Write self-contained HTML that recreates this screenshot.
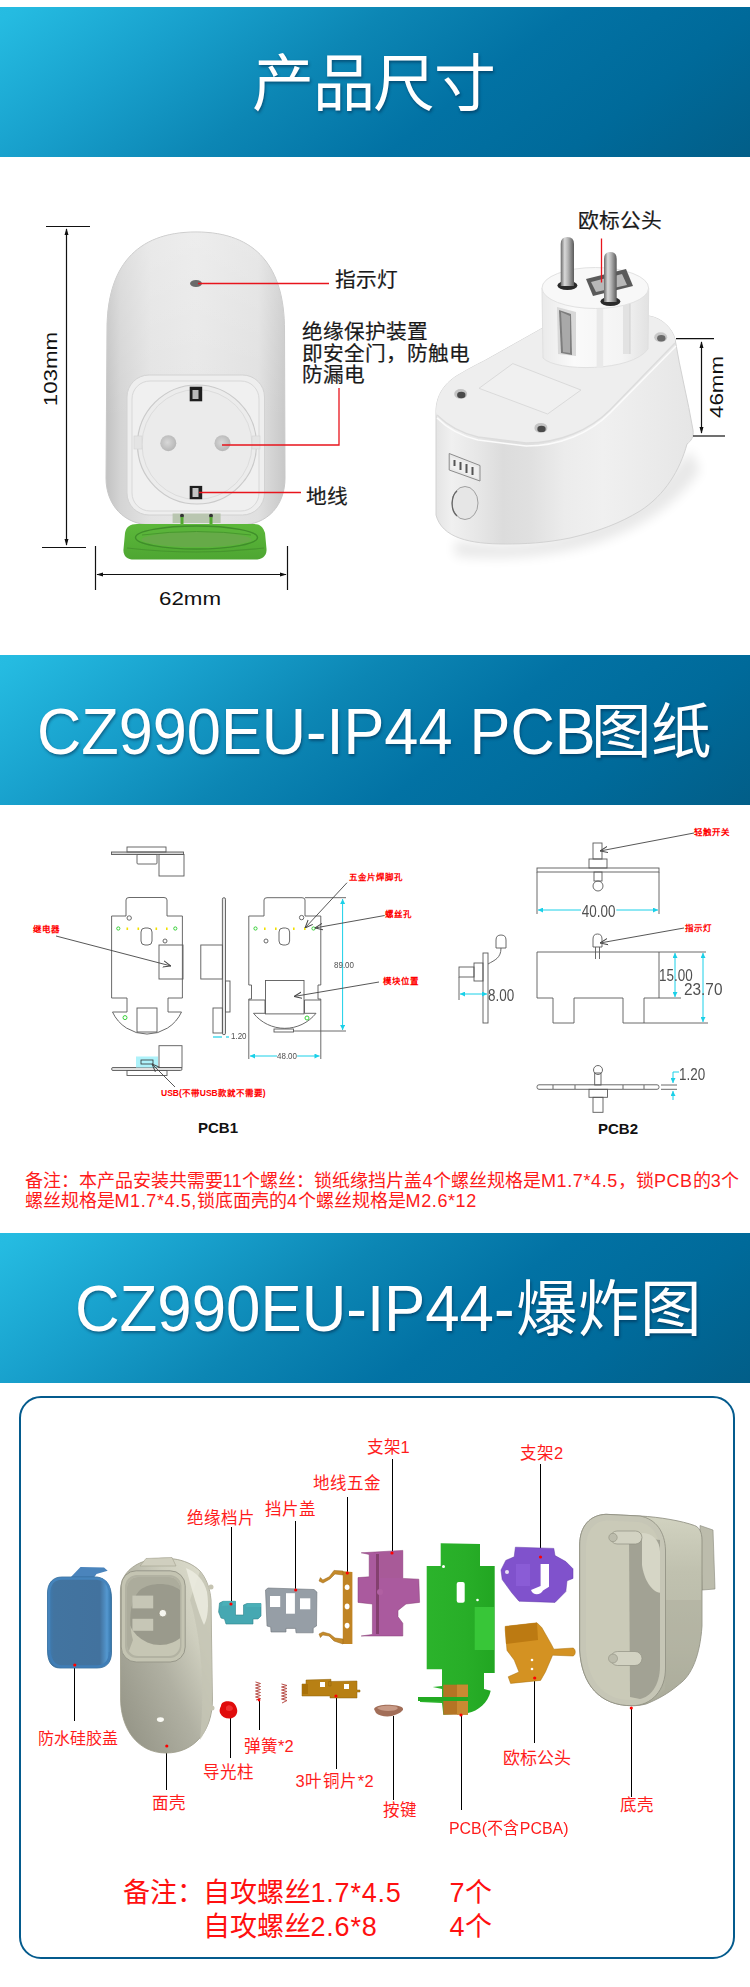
<!DOCTYPE html>
<html lang="zh-CN"><head><meta charset="utf-8">
<style>
*{margin:0;padding:0;box-sizing:border-box}
html,body{width:750px;height:1987px;background:#fff;overflow:hidden}
body{font-family:"Liberation Sans",sans-serif;position:relative}
.ban{position:absolute;left:0;width:750px;height:150px;
 background:linear-gradient(143deg,#26bce2 0%,#25bbe1 2%,#18a0cc 22%,#0c86b4 41.5%,#0272a4 61%,#006a9a 80%,#025e88 100%);}
.bt{position:absolute;color:#fff;white-space:nowrap;text-shadow:1px 2px 3px rgba(0,25,55,.45);line-height:1}
.abs{position:absolute;white-space:nowrap;line-height:1}
.lbl{position:absolute;white-space:nowrap;line-height:1;color:#1a1a1a;font-size:20.7px;-webkit-text-stroke:0.2px #1a1a1a}
.red{position:absolute;white-space:nowrap;line-height:1;color:#fe1a1a;font-size:16px}
svg{position:absolute;left:0;top:0}
.pr{position:absolute;white-space:nowrap;line-height:1;color:#f00;font-size:8.5px;font-weight:bold}
.cad{position:absolute;white-space:nowrap;line-height:1;color:#505050;transform:scaleX(0.84);transform-origin:0 0}
.l{letter-spacing:0.6px}
.el{position:absolute;white-space:nowrap;line-height:1;color:#ff1c1c;font-size:16.5px}
.note{position:absolute;white-space:nowrap;line-height:1;color:#ff1010;font-size:27px}
.dimt{position:absolute;white-space:nowrap;line-height:1;font-size:18.6px;color:#111}
</style></head><body>

<!-- Banner 1 -->
<div class="ban" style="top:7px"></div>
<div class="bt" style="left:252px;top:54px;font-size:62px;letter-spacing:-1.3px">产品尺寸</div>


<!-- PRODUCT SECTION -->
<svg width="750" height="660" viewBox="0 0 750 660" style="top:0">
<defs>
 <linearGradient id="bodyL" x1="0" x2="1" y1="0" y2="0">
  <stop offset="0" stop-color="#c2c2c2"/><stop offset="0.08" stop-color="#d4d4d4"/><stop offset="0.25" stop-color="#e3e3e3"/>
  <stop offset="0.5" stop-color="#e7e7e7"/><stop offset="0.85" stop-color="#e0e0e0"/>
  <stop offset="1" stop-color="#c8c8c8"/>
 </linearGradient>
 <linearGradient id="bodyV" x1="0" x2="0" y1="0" y2="1">
  <stop offset="0" stop-color="#fff" stop-opacity="0.25"/><stop offset="1" stop-color="#fff" stop-opacity="0"/>
 </linearGradient>
 <radialGradient id="hole" cx="0.45" cy="0.45" r="0.6">
  <stop offset="0" stop-color="#d8d8d8"/><stop offset="1" stop-color="#b4b4b4"/>
 </radialGradient>
 <linearGradient id="lid" x1="0" x2="0" y1="0" y2="1">
  <stop offset="0" stop-color="#5cb83a"/><stop offset="1" stop-color="#4ea632"/>
 </linearGradient>
 <linearGradient id="front" x1="0" x2="1" y1="0" y2="0">
  <stop offset="0" stop-color="#e4e4e4"/><stop offset="0.06" stop-color="#f0f0f0"/><stop offset="0.17" stop-color="#e6e6e6"/>
  <stop offset="0.26" stop-color="#dcdcdc"/><stop offset="0.37" stop-color="#e0e0e0"/><stop offset="0.5" stop-color="#ececec"/>
  <stop offset="0.65" stop-color="#f0f0f0"/><stop offset="1" stop-color="#e6e6e6"/>
 </linearGradient>
 <linearGradient id="cyl" x1="0" x2="1" y1="0" y2="0">
  <stop offset="0" stop-color="#eaeaea"/><stop offset="0.3" stop-color="#fafafa"/>
  <stop offset="0.75" stop-color="#f4f4f4"/><stop offset="1" stop-color="#e2e2e2"/>
 </linearGradient>
 <linearGradient id="pin" x1="0" x2="1" y1="0" y2="0">
  <stop offset="0" stop-color="#6a6a6a"/><stop offset="0.3" stop-color="#d8d8d8"/>
  <stop offset="0.55" stop-color="#b4b4b4"/><stop offset="1" stop-color="#5a5a5a"/>
 </linearGradient>
 <filter id="blur6"><feGaussianBlur stdDeviation="6"/></filter>
 <marker id="arr" viewBox="0 0 10 10" refX="9" refY="5" markerWidth="7" markerHeight="9" orient="auto-start-reverse" markerUnits="userSpaceOnUse">
  <path d="M0,2 L10,5 L0,8 Z" fill="#111"/></marker>
</defs>

<!-- left product: body -->
<path d="M107,330 C107,268 135,232 196,232 C257,232 284.5,268 284.5,330 L285,478 C285,505 268,525 240,525 L152,525 C124,525 106,505 106,478 Z" fill="url(#bodyL)" stroke="#c8c8c8" stroke-width="1"/>
<path d="M107,330 C107,268 135,232 196,232 C257,232 284.5,268 284.5,330 L285,420 L106,420 Z" fill="url(#bodyV)"/>
<ellipse cx="196" cy="283.5" rx="6" ry="3.5" fill="#6a6a6a"/>
<!-- recess -->
<rect x="127" y="375" width="137.5" height="140" rx="22" fill="#eeeeee" stroke="#d2d2d2"/>
<rect x="132" y="381" width="127" height="130" rx="18" fill="#f0f0f0" stroke="#d8d8d8"/>
<circle cx="197" cy="444.5" r="59.5" fill="#ececec" stroke="#cacaca" stroke-width="1.2"/>
<circle cx="197" cy="444.5" r="55" fill="#ebebeb" stroke="#dcdcdc"/>
<rect x="134" y="436" width="8" height="13" fill="#e4e4e4" stroke="#d2d2d2" stroke-width=".6"/>
<rect x="252" y="436" width="8" height="13" fill="#e4e4e4" stroke="#d2d2d2" stroke-width=".6"/>
<circle cx="168.3" cy="443.2" r="8" fill="url(#hole)"/>
<circle cx="222.5" cy="443.2" r="8" fill="url(#hole)"/>
<rect x="189.7" y="386.7" width="12.5" height="14.6" fill="#1e1e1e"/>
<rect x="192.5" y="390" width="6" height="9" fill="#b9b9b9"/>
<rect x="189.7" y="485.9" width="12.5" height="13.3" fill="#1e1e1e"/>
<rect x="192.5" y="488" width="6" height="9" fill="#c4c4c4"/>
<!-- hinge -->
<rect x="172.6" y="513.5" width="48" height="9.5" fill="#b9c6b0"/>
<circle cx="182" cy="515.7" r="2" fill="#333"/><circle cx="211" cy="515.7" r="2" fill="#333"/>
<rect x="180.5" y="517" width="3" height="7" fill="#55a832"/><rect x="209.5" y="517" width="3" height="7" fill="#55a832"/>
<!-- lid -->
<path d="M137,524 L254,524 C260,524 263,527 265,533 L266.5,549 C267,556 262,559.5 255,559.5 L134,559.5 C127,559.5 123,556 123.5,549 L125,533 C126,527 130,524 137,524 Z" fill="url(#lid)"/>
<path d="M127,548 Q196,556 264,548" stroke="#46962e" stroke-width="1.2" fill="none"/>
<ellipse cx="196.5" cy="537.5" rx="61" ry="11.5" fill="#5ab43a" stroke="#3f8e2a" stroke-width="1.4"/>
<ellipse cx="196.5" cy="539.5" rx="55" ry="7.5" fill="#66aa48"/>
<path d="M142,535 Q196.5,528 251,535" stroke="#48982f" stroke-width="1" fill="none"/>
<!-- left dims -->
<line x1="46" y1="226.5" x2="90" y2="226.5" stroke="#111" stroke-width="1.2"/>
<line x1="42" y1="547.5" x2="86" y2="547.5" stroke="#111" stroke-width="1.2"/>
<line x1="66.5" y1="229" x2="66.5" y2="545" stroke="#111" stroke-width="1.2" marker-start="url(#arr)" marker-end="url(#arr)"/>
<line x1="95.5" y1="546" x2="95.5" y2="590" stroke="#111" stroke-width="1.2"/>
<line x1="287.5" y1="546" x2="287.5" y2="590" stroke="#111" stroke-width="1.2"/>
<line x1="97" y1="574.5" x2="286" y2="574.5" stroke="#111" stroke-width="1.2" marker-start="url(#arr)" marker-end="url(#arr)"/>

<!-- red leader lines -->
<line x1="198" y1="283.5" x2="329" y2="283.5" stroke="#e8141c" stroke-width="1.3"/>
<polyline points="222,445 339,445 339,388" stroke="#e8141c" stroke-width="1.3" fill="none"/>
<line x1="199" y1="492.5" x2="301" y2="492.5" stroke="#e8141c" stroke-width="1.3"/>

<!-- right product -->
<path d="M455,540 C520,552 620,540 690,450 L700,470 C650,545 540,565 455,556 Z" fill="#000" opacity="0.09" filter="url(#blur6)"/>
<path d="M436,515 L436,412 C436,395 445,382 460,374 C470,368 478,364 484,361 L548,325 L649,316 C662,318 672,328 675,339 C680,370 688,400 693,430 C694,437 691,441 687,444 C680,470 665,495 640,511 C620,523 600,531 570,538 C545,543 525,544 505,544 C470,544 442,538 436,515 Z" fill="url(#front)" stroke="#d2d2d2"/>
<path d="M436,412 C436,395 445,382 460,374 C470,368 478,364 484,361 L548,325 L649,316 C662,318 672,328 675,339 L675,343 L610,410 C590,430 560,443 526,443 L478,437 C455,432 437,425 436,412 Z" fill="#eeeeee"/>
<path d="M437,415 C450,428 465,434 478,437 L526,443 C560,443 590,430 610,410 L675,343" fill="none" stroke="#dcdcdc" stroke-width="1.5"/>
<path d="M437,418 C450,431 465,437 478,440 L526,446 C560,446 590,433 610,413 L676,346" fill="none" stroke="#fbfbfb" stroke-width="1.5"/>
<polygon points="479,388.3 512.8,363.6 581,390 547.6,414" fill="#f0f0f0" stroke="#dadada"/>
<ellipse cx="460.7" cy="394" rx="6.5" ry="5" fill="#c4c4c4"/><ellipse cx="461.3" cy="395" rx="4.2" ry="3.2" fill="#4a4a4a"/>
<ellipse cx="540.9" cy="427.9" rx="6.5" ry="5" fill="#c4c4c4"/><ellipse cx="541.5" cy="428.9" rx="4.2" ry="3.2" fill="#4a4a4a"/>
<ellipse cx="660.7" cy="337.3" rx="6.5" ry="5" fill="#c8c8c8"/><ellipse cx="661.3" cy="338.3" rx="4.2" ry="3.2" fill="#6a6a6a"/>
<polygon points="449.2,453.5 480,465.5 480,481 449.2,470" fill="#e8e8e8" stroke="#8c8c8c" stroke-width="1"/>
<polygon points="451,457 478,467.5 478,478.5 451,468" fill="#efefef"/>
<rect x="453.5" y="460" width="2" height="6" fill="#555"/><rect x="459.5" y="462" width="2" height="8" fill="#555"/>
<rect x="465.5" y="464" width="2" height="9" fill="#555"/><rect x="471.5" y="467" width="2" height="8" fill="#555"/>
<ellipse cx="465" cy="503" rx="13" ry="16.5" fill="#e6e6e6" stroke="#a0a0a0" stroke-width="1"/><path d="M457,491 C451,496 450,510 457,516" fill="none" stroke="#666" stroke-width="1.2"/>
<!-- plug cylinder -->
<path d="M542,288 L543,358 C556,372 632,372 648,349 L648.7,288 Z" fill="url(#cyl)" stroke="#e0e0e0"/>
<rect x="596.7" y="306" width="6.5" height="62" fill="#e9e9e9"/>
<rect x="623" y="302" width="7" height="52" fill="#e2e2e2"/>
<line x1="630" y1="302" x2="630" y2="354" stroke="#d0d0d0"/>
<ellipse cx="595.3" cy="288" rx="53.3" ry="20.5" fill="#f8f8f8" stroke="#e2e2e2"/>
<polygon points="557,307 576,312 576,356 558,354" fill="#d8d8d8"/>
<polygon points="559,310 571,314 572,355 561,353" fill="#7d7d7d"/>
<polygon points="561,312 570,316 570,353 563,352" fill="#a9a9a9"/>
<polygon points="586,279 626,269 633,286 593,296" fill="#5a5a5a"/>
<polygon points="591,282 622,274 627,285 596,292" fill="#b8b8b8"/>
<ellipse cx="567.4" cy="285.5" rx="10" ry="4.5" fill="#2a2a2a"/>
<ellipse cx="610.4" cy="301.5" rx="10" ry="4.5" fill="#2a2a2a"/>
<path d="M560.7,244 Q560.7,237 567.4,237 Q574,237 574,244 L574,286 L560.7,286 Z" fill="url(#pin)"/>
<path d="M604,259 Q604,252 610.4,252 Q616.7,252 616.7,259 L616.7,302 L604,302 Z" fill="url(#pin)"/>
<line x1="601.5" y1="238.5" x2="601.5" y2="282.5" stroke="#e8141c" stroke-width="1.3"/>
<!-- right dims -->
<line x1="676" y1="338.7" x2="714" y2="338.7" stroke="#111" stroke-width="1.2"/>
<line x1="693" y1="436" x2="725" y2="436" stroke="#111" stroke-width="1.2"/>
<line x1="701.5" y1="342" x2="701.5" y2="433" stroke="#111" stroke-width="1.2" marker-start="url(#arr)" marker-end="url(#arr)"/>
</svg>
<div class="lbl" style="left:335px;top:270px">指示灯</div>
<div class="lbl" style="left:302px;top:321px;line-height:21.7px">绝缘保护装置<br>即安全门，防触电<br>防漏电</div>
<div class="lbl" style="left:306px;top:486.5px">地线</div>
<div class="lbl" style="left:578px;top:211px">欧标公头</div>
<div class="dimt" style="left:190.2px;top:599px;transform:translate(-50%,-50%) scaleX(1.2)">62mm</div>
<div class="dimt" style="left:51px;top:369.4px;transform:translate(-50%,-50%) rotate(-90deg) scaleX(1.2)">103mm</div>
<div class="dimt" style="left:716.5px;top:386.5px;transform:translate(-50%,-50%) rotate(-90deg) scaleX(1.2)">46mm</div>

<!-- Banner 2 -->
<div class="ban" style="top:655px"></div>
<div class="bt" style="left:37px;top:699.5px;font-size:64.5px;transform:scaleX(0.95);transform-origin:0 0">CZ990EU-IP44 PCB</div>
<div class="bt" style="left:591px;top:702px;font-size:60.5px">图纸</div>


<!-- PCB SECTION -->
<svg width="750" height="440" viewBox="0 805 750 440" style="top:805px">
<defs>
 <marker id="ar" viewBox="0 0 10 10" refX="10" refY="5" markerWidth="8" markerHeight="8" orient="auto" markerUnits="userSpaceOnUse">
  <path d="M0,1 L10,5 L0,9" fill="none" stroke="#444" stroke-width="1.2"/></marker>
 <marker id="ac" viewBox="0 0 10 10" refX="10" refY="5" markerWidth="7" markerHeight="5" orient="auto-start-reverse" markerUnits="userSpaceOnUse">
  <path d="M0,0 L10,5 L0,10 Z" fill="#1ad0e8"/></marker>
</defs>
<g fill="none" stroke="#5a5a5a" stroke-width="0.9">
 <!-- PCB1 top view -->
 <rect x="111.5" y="852" width="72" height="2.5" fill="#d8d8d8"/>
 <rect x="127" y="847" width="39" height="5"/>
 <rect x="137" y="854.5" width="20" height="9.5" rx="1"/>
 <rect x="159" y="854.5" width="25" height="21.5"/>
 <!-- PCB1 left board -->
 <path d="M111.6,916 L126,916 L126,900 Q126,897.5 129,897.5 L164,897.5 Q167,897.5 167,900 L167,916 L182.4,916 L182.4,998 L168,998 L168,1012 L181.5,1012 A38,38 0 0 1 112.5,1012 L127,1012 L127,998 L111.6,998 Z"/>
 <circle cx="129.2" cy="918" r="2.2"/>
 <rect x="141" y="928" width="11" height="17" rx="4"/>
 <circle cx="165" cy="941" r="2"/>
 <rect x="159" y="945" width="24" height="34"/>
 <rect x="137" y="1008" width="20" height="24"/>
 <!-- PCB1 side -->
 <rect x="222.4" y="897.7" width="3.1" height="137" rx="1.5" fill="#e6e6e6"/>
 <rect x="200.8" y="945" width="21.6" height="34"/>
 <rect x="225.5" y="981" width="4.5" height="31"/>
 <rect x="213" y="1008" width="9.4" height="25"/>
 <!-- PCB1 right board -->
 <path d="M248.8,916 L264,916 L264,900 Q264,897.7 267,897.7 L302,897.7 Q305,897.7 305,900 L305,916 L320.8,916 L320.8,985 L318,985 L318,999 L320.8,999 L320.8,1000 L304.5,1000 L304.5,1013.3 L316,1013.3 A40,40 0 0 1 253.5,1013.3 L265,1013.3 L265,1000 L248.8,1000 L248.8,999 L251.5,999 L251.5,985 L248.8,985 Z"/>
 <line x1="248.8" y1="1000" x2="248.8" y2="1059"/>
 <line x1="320.8" y1="1000" x2="320.8" y2="1059"/>
 <circle cx="301.6" cy="917.6" r="2.2"/>
 <rect x="279" y="928" width="10.6" height="17" rx="4"/>
 <circle cx="266" cy="941" r="2"/>
 <rect x="265.5" y="980.5" width="38.5" height="33.4"/>
 <rect x="274" y="1029" width="19.5" height="3"/>
 <line x1="305" y1="897.7" x2="346" y2="897.7"/>
 <line x1="293" y1="1031" x2="346" y2="1031"/>
 <!-- PCB1 bottom side view -->
 <rect x="111.6" y="1067.5" width="70.4" height="3" rx="1.4" fill="#e0e0e0"/>
 <rect x="127" y="1070.5" width="40" height="5"/>
 <rect x="159" y="1045.7" width="23" height="21.8"/>
</g>
<rect x="136" y="1056.5" width="22" height="11" fill="#aef2fa"/>
<rect x="141" y="1060" width="12" height="4" fill="none" stroke="#333" stroke-width="0.8"/>
<!-- PCB1 dots -->
<g stroke="#38d038" fill="none" stroke-width="1">
 <circle cx="118.3" cy="928.5" r="1.6"/><circle cx="175.3" cy="928.5" r="1.6"/>
 <circle cx="255.5" cy="928.5" r="1.6"/><circle cx="313.5" cy="928.5" r="1.6"/>
 <circle cx="125" cy="1017.6" r="2"/><circle cx="307" cy="1018" r="2"/>
</g>
<g fill="#f2e000">
 <rect x="126.5" y="927.5" width="1.6" height="2.5"/><rect x="137.5" y="927.5" width="1.6" height="2.5"/>
 <rect x="155.5" y="927.5" width="1.6" height="2.5"/><rect x="166" y="927.5" width="1.6" height="2.5"/>
 <rect x="264" y="927.5" width="1.6" height="2.5"/><rect x="275" y="927.5" width="1.6" height="2.5"/>
 <rect x="293" y="927.5" width="1.6" height="2.5"/><rect x="304" y="927.5" width="1.6" height="2.5"/>
</g>
<!-- PCB1 dims -->
<line x1="342.6" y1="899" x2="342.6" y2="1030" stroke="#1ad0e8" stroke-width="1" marker-start="url(#ac)" marker-end="url(#ac)"/>
<line x1="250" y1="1056" x2="319.5" y2="1056" stroke="#1ad0e8" stroke-width="1" marker-start="url(#ac)" marker-end="url(#ac)"/>
<line x1="213" y1="1037" x2="222" y2="1037" stroke="#1ad0e8" stroke-width="1.2"/>
<line x1="226" y1="1037" x2="229" y2="1037" stroke="#1ad0e8" stroke-width="1.2"/>
<!-- arrows -->
<g stroke="#444" stroke-width="0.9" fill="none">
 <line x1="56" y1="936" x2="171" y2="966" marker-end="url(#ar)"/>
 <line x1="347" y1="882.7" x2="305" y2="928" marker-end="url(#ar)"/>
 <line x1="384.7" y1="915.5" x2="314.8" y2="928" marker-end="url(#ar)"/>
 <line x1="379" y1="982" x2="294" y2="996.5" marker-end="url(#ar)"/>
 <line x1="175" y1="1087" x2="152" y2="1064" marker-end="url(#ar)"/>
 <line x1="694" y1="833" x2="600" y2="851" marker-end="url(#ar)"/>
 <line x1="684" y1="928" x2="600" y2="943" marker-end="url(#ar)"/>
</g>

<!-- PCB2 -->
<g fill="none" stroke="#5a5a5a" stroke-width="0.9">
 <rect x="537" y="868" width="122" height="4"/>
 <rect x="589" y="859" width="18" height="9"/>
 <rect x="593" y="843" width="9" height="16"/>
 <rect x="594" y="872" width="8" height="9"/>
 <circle cx="598" cy="886" r="5"/>
 <line x1="537" y1="872" x2="537" y2="914"/>
 <line x1="659" y1="872" x2="659" y2="914"/>
 <path d="M537,952 L659,952 L659,998 L644,998 L644,1023 L623,1023 L623,998 L574,998 L574,1023 L553,1023 L553,998 L537,998 Z"/>
 <path d="M593,947 L593,939 Q593,934 597.5,934 Q602,934 602,939 L602,947 Z"/>
 <line x1="595.5" y1="947" x2="595.5" y2="959"/><line x1="599.5" y1="947" x2="599.5" y2="959"/>
 <line x1="659" y1="952" x2="706" y2="952"/>
 <line x1="659" y1="998" x2="681" y2="998"/>
 <line x1="644" y1="1023" x2="708" y2="1023"/>
 <rect x="483" y="953" width="5" height="70"/>
 <rect x="459" y="967" width="15" height="10"/>
 <rect x="474" y="963" width="9" height="18"/>
 <path d="M496,948 L496,940 Q496,935 501,935 Q506,935 506,940 L506,948 Z"/>
 <path d="M501,948 C501,958 495,960 488,964"/>
 <line x1="459" y1="977" x2="459" y2="1000"/>
 <rect x="537" y="1084.8" width="122" height="4.5" rx="2"/>
 <line x1="553" y1="1085" x2="553" y2="1089"/><line x1="575" y1="1085" x2="575" y2="1089"/>
 <line x1="623" y1="1085" x2="623" y2="1089"/><line x1="644" y1="1085" x2="644" y2="1089"/>
 <circle cx="598" cy="1070" r="4.5"/>
 <rect x="594.7" y="1073" width="6.3" height="12"/>
 <rect x="589" y="1089.3" width="18.5" height="8"/>
 <rect x="593" y="1097.3" width="10" height="15"/>
 <line x1="661" y1="1085" x2="677" y2="1085"/><line x1="661" y1="1089.3" x2="677" y2="1089.3"/>
</g>
<g stroke="#1ad0e8" stroke-width="1">
 <line x1="538" y1="910" x2="658" y2="910" marker-start="url(#ac)" marker-end="url(#ac)"/>
 <line x1="675" y1="953" x2="675" y2="997" marker-start="url(#ac)" marker-end="url(#ac)"/>
 <line x1="703" y1="953" x2="703" y2="1022" marker-start="url(#ac)" marker-end="url(#ac)"/>
 <line x1="460" y1="994" x2="487" y2="994" marker-start="url(#ac)" marker-end="url(#ac)"/>
 <line x1="673" y1="1072" x2="673" y2="1083" marker-end="url(#ac)"/>
 <line x1="673" y1="1100" x2="673" y2="1091" marker-end="url(#ac)"/>
 <line x1="673" y1="1072" x2="679" y2="1072"/>
</g>
</svg>
<div class="pr" style="left:33px;top:925px">继电器</div>
<div class="pr" style="left:348.5px;top:872.5px">五金片焊脚孔</div>
<div class="pr" style="left:385px;top:910px">螺丝孔</div>
<div class="pr" style="left:382.5px;top:976.5px">模块位置</div>
<div class="pr" style="left:161px;top:1089px">USB(不带USB款就不需要)</div>
<div class="pr" style="left:694px;top:828px">轻触开关</div>
<div class="pr" style="left:685px;top:924px">指示灯</div>
<div class="cad" style="left:334px;top:959.5px;font-size:9.5px">89.00</div>
<div class="cad" style="left:276.5px;top:1050.5px;font-size:9.5px;background:#fff">48.00</div>
<div class="cad" style="left:230.5px;top:1031px;font-size:9.5px">1.20</div>
<div class="cad" style="left:581px;top:904px;font-size:16px;background:#fff;padding:0 1px">40.00</div>
<div class="cad" style="left:659px;top:968px;font-size:16px">15.00</div>
<div class="cad" style="left:683.5px;top:981.5px;font-size:16px;transform:scaleX(0.96)">23.70</div>
<div class="cad" style="left:487.5px;top:988px;font-size:16px">8.00</div>
<div class="cad" style="left:678.5px;top:1066.5px;font-size:16px">1.20</div>
<div class="abs" style="left:198px;top:1120px;font-size:15px;font-weight:bold;color:#111">PCB1</div>
<div class="abs" style="left:598px;top:1121px;font-size:15px;font-weight:bold;color:#111">PCB2</div>
<div class="red" style="left:24.5px;top:1170.5px;font-size:18px;line-height:20.5px">备注：本产品安装共需要<span class="l">11</span>个螺丝：锁纸缘挡片盖<span class="l">4</span>个螺丝规格是<span class="l">M1.7*4.5</span>，锁<span class="l">PCB</span>的<span class="l">3</span>个<br>螺丝规格是<span class="l">M1.7*4.5,</span>锁底面壳的<span class="l">4</span>个螺丝规格是<span class="l">M2.6*12</span></div>

<!-- Banner 3 -->
<div class="ban" style="top:1233px"></div>
<div class="bt" style="left:75px;top:1277px;font-size:64.5px;transform:scaleX(0.958);transform-origin:0 0">CZ990EU-IP44-</div>
<div class="bt" style="left:516px;top:1278.5px;font-size:61.5px">爆炸图</div>


<!-- EXPLODED -->
<svg width="750" height="600" viewBox="0 1390 750 600" style="top:1390px">
<defs>
 <linearGradient id="blueC" x1="0" x2="1" y1="0" y2="0">
  <stop offset="0" stop-color="#3c7cb4"/><stop offset="0.1" stop-color="#4274a0"/>
  <stop offset="0.82" stop-color="#42729e"/><stop offset="0.93" stop-color="#5498d0"/><stop offset="1" stop-color="#3272a6"/>
 </linearGradient>
 <linearGradient id="shellF" x1="1" x2="0" y1="0" y2="1">
  <stop offset="0" stop-color="#e0e0d0"/><stop offset="0.3" stop-color="#cecebe"/>
  <stop offset="0.55" stop-color="#b0b0a2"/><stop offset="0.8" stop-color="#9e9e90"/><stop offset="1" stop-color="#909082"/>
 </linearGradient>
 <linearGradient id="shellB" x1="0" x2="0" y1="0" y2="1">
  <stop offset="0" stop-color="#d2d3c1"/><stop offset="0.3" stop-color="#c0c1af"/>
  <stop offset="0.7" stop-color="#b8b9a8"/><stop offset="1" stop-color="#acad9c"/>
 </linearGradient>
 <linearGradient id="greenP" x1="0" x2="1" y1="0" y2="0">
  <stop offset="0" stop-color="#2cb42c"/><stop offset="0.6" stop-color="#28ae28"/><stop offset="1" stop-color="#22a622"/>
 </linearGradient>
</defs>
<!-- leader lines -->
<g stroke="#000" stroke-width="1">
 <line x1="74.5" y1="1665" x2="74.5" y2="1721"/>
 <line x1="166.5" y1="1746" x2="166.5" y2="1790"/>
 <line x1="231.5" y1="1527" x2="231.5" y2="1604"/>
 <line x1="295.5" y1="1521" x2="295.5" y2="1590"/>
 <line x1="347.5" y1="1497" x2="347.5" y2="1573"/>
 <line x1="392.5" y1="1459" x2="392.5" y2="1553"/>
 <line x1="540.5" y1="1464" x2="540.5" y2="1557"/>
 <line x1="230.5" y1="1718" x2="230.5" y2="1758"/>
 <line x1="259.5" y1="1700" x2="259.5" y2="1730"/>
 <line x1="336.5" y1="1696" x2="336.5" y2="1769"/>
 <line x1="393.5" y1="1716" x2="393.5" y2="1800"/>
 <line x1="461.5" y1="1715" x2="461.5" y2="1810"/>
 <line x1="534.5" y1="1678" x2="534.5" y2="1743"/>
 <line x1="631.5" y1="1708" x2="631.5" y2="1797"/>
</g>
<!-- blue cap -->
<path d="M70,1578 L80.5,1567 L104,1567.5 L107.7,1570.7 L96.5,1574 L93,1579 Z" fill="#4a84bc"/>
<path d="M62,1577 L97,1577 C106,1578 111.5,1586 111.5,1598 L111.5,1652 C111.5,1663 106,1668 97,1668 L60,1668 C51,1668 47.5,1661 47.5,1650 L47.5,1593 C47.5,1583 53,1577 62,1577 Z" fill="url(#blueC)" stroke="#2d6797" stroke-width="0.8"/>
<path d="M49,1645 C49,1660 54,1666.5 62,1666.5 L97,1666.5 C105,1666.5 110,1661 110,1652" fill="none" stroke="#3f7db6" stroke-width="2.5"/>
<path d="M49,1650 L49,1594 C49,1584 54,1578.5 62,1578.5 L97,1578.5 C104,1579 108,1583 109.5,1590" fill="none" stroke="#4584bc" stroke-width="2.5"/>
<!-- face shell -->
<path d="M120.4,1592 C120.4,1576 130,1566 145,1561 C162,1556 186,1557 200,1571 C206,1578 210,1588 211,1600 L212.4,1700 C212.4,1730 195,1753 166,1753 C137,1753 121,1728 120.6,1700 Z" fill="url(#shellF)" stroke="#9c9a88" stroke-width="0.8"/>
<path d="M190,1600 C202,1640 205,1690 200,1740 C207,1730 212,1715 212,1700 L211,1600 C210,1588 206,1578 200,1571 Z" fill="#c4c4b4" opacity="0.8"/>
<path d="M186,1568 C196,1572 204,1580 207,1592 C209,1605 208,1618 204,1625 C198,1612 192,1590 186,1568 Z" fill="#ecece0" opacity="0.85"/>
<rect x="121.2" y="1570.8" width="64" height="91.2" rx="15" fill="#c4c4b2" stroke="#98988a"/>
<rect x="125" y="1575" width="56.5" height="83" rx="12" fill="#b2b2a2"/>
<clipPath id="recc"><rect x="127" y="1577" width="53" height="79" rx="11"/></clipPath>
<g clip-path="url(#recc)">
<rect x="127" y="1577" width="53" height="79" fill="#c6c6b4"/>
<circle cx="160" cy="1612" r="33" fill="#9a9a8c"/>
<path d="M127,1577 L180,1577 L180,1590 C170,1582 150,1582 140,1590 C130,1600 128,1620 133,1640 L127,1656 Z" fill="#acac9c"/>
</g>
<rect x="132.4" y="1595.6" width="20.8" height="12.8" fill="#c6c6b6"/>
<rect x="132.4" y="1618.8" width="20.8" height="12" fill="#c6c6b6"/>
<circle cx="162.8" cy="1613.2" r="3.8" fill="#f6f6f0" stroke="#8f8d7c" stroke-width="0.8"/>
<ellipse cx="160.4" cy="1719.6" rx="3.5" ry="2.3" fill="#fafaf4"/>
<path d="M140,1566 L146,1558.5 L172,1557.5 L176,1566 Z" fill="#d0cfbf" stroke="#a3a18f" stroke-width="0.6"/>
<circle cx="211" cy="1587" r="2.5" fill="#c6c4b2"/><circle cx="212" cy="1708" r="2.5" fill="#c6c4b2"/>
<!-- teal -->
<path d="M219.5,1603 L223,1601.3 L235.5,1601.3 L235.5,1615 L243.5,1615 L243.5,1605 L247,1603.5 L261,1603.5 L261,1616 L258,1618.9 L253,1619 L253,1624 L226,1624 L224.5,1619 L221,1618 L218.6,1612 Z" fill="#46a8b2" stroke="#2e848c" stroke-width="0.6"/>
<path d="M223,1601.3 L235.5,1601.3 L235.5,1605 L222,1606 Z" fill="#4ab0b8"/>
<path d="M247,1603.5 L261,1603.5 L261,1607 L246,1607 Z" fill="#4ab0b8"/>
<!-- gray plate -->
<path d="M265.5,1590 L268,1588 L314,1589.5 L316.9,1592 L316.5,1626 L313.2,1628 L313.2,1632.8 L296,1632.8 L295.6,1628.4 L286,1628.4 L286,1632 L271,1632 L270.7,1627 L267,1626 Z" fill="#969ea6" stroke="#6d747b" stroke-width="0.6"/>
<rect x="270" y="1596" width="10.2" height="11" fill="#fff"/>
<rect x="286" y="1593.2" width="8.9" height="20.5" fill="#fff"/>
<rect x="300" y="1598.3" width="10.3" height="11" fill="#fff"/>
<!-- bronze bracket -->
<path d="M342.8,1571.2 L352.4,1572 L352.4,1644 L342.8,1644 Z" fill="#c08424"/>
<path d="M343,1571 L334,1570.4 L329.2,1576.8 L322.8,1580 L320.4,1577.6 L319,1581 L323,1583 L330,1579 L335,1574 L343,1575 Z" fill="#c48a2a" stroke="#9a6414" stroke-width="0.5"/>
<path d="M343,1644 L334,1641 L329,1636 L322.8,1635 L320.4,1637.6 L319,1634 L323,1632 L330,1634 L335,1638 L343,1639 Z" fill="#c48a2a" stroke="#9a6414" stroke-width="0.5"/>
<ellipse cx="347.1" cy="1587.2" rx="2.4" ry="2.8" fill="#fff"/><ellipse cx="347.1" cy="1606.4" rx="2.4" ry="2.8" fill="#fff"/><ellipse cx="347.1" cy="1625.6" rx="2.4" ry="2.8" fill="#fff"/>
<!-- magenta -->
<path d="M361.2,1552.8 L402.8,1550.4 L402.8,1578.4 L418.8,1579.2 L419.6,1602.4 L406,1604 L398,1610.4 L398,1616.8 L402.8,1623.2 L402.8,1636 L361.2,1636 L372.4,1634.4 L372.4,1604 L358,1602.4 L358,1577.6 L369.2,1576.8 L369.2,1554.4 Z" fill="#aa5a9e" stroke="#863c74" stroke-width="0.5"/>
<path d="M380,1553 L402.8,1551 L402.8,1578 L380,1578 Z" fill="#a85a98"/>
<rect x="376" y="1554" width="3" height="80" fill="#84406f"/>
<circle cx="380" cy="1592" r="3" fill="#b060a2"/>
<!-- green pcb -->
<path d="M440.7,1543.3 L480,1544 L480,1566 L494.7,1566 L494.7,1673 L484,1673 L484,1689 L490.7,1690.7 C488,1703 478,1711 468,1713 L443.3,1714.7 L442,1703 L420,1702 L420,1698.7 L442,1698 L442,1689 L432.7,1687 L442,1686 L442,1669.3 L426.7,1669.3 L426.7,1566 L440.7,1566 Z" fill="url(#greenP)"/>
<rect x="474.7" y="1607" width="19.3" height="43" fill="#38c638"/>
<rect x="456.7" y="1582" width="8" height="20.7" rx="2" fill="#fff"/>
<circle cx="443.5" cy="1566.5" r="1.5" fill="#fff"/><circle cx="477.5" cy="1600" r="1.3" fill="#fff"/>
<rect x="443.3" y="1684.7" width="24.7" height="30" fill="#b47424"/>
<rect x="457" y="1684.7" width="11" height="30" fill="#c98a32"/>
<rect x="418" y="1697" width="50" height="4" fill="#22aa22"/>
<!-- purple -->
<path d="M515.4,1547.2 L553.8,1548.4 L555,1555.6 L565.8,1561.6 L573,1568.8 L573,1578.4 L567,1580.8 L565.8,1591.6 L555,1602.4 L519,1601.2 L511.8,1592.8 L502.2,1579.6 L501,1570 L505.8,1560.4 L514.2,1556.8 Z" fill="#8052cc" stroke="#6038a6" stroke-width="0.5"/>
<rect x="516" y="1564" width="14" height="22" fill="#8a5cd6"/>
<path d="M540.6,1564 L549,1564 L549,1586.8 L543,1590.4 C541,1595 533,1596 531,1590 L540.6,1586 Z" fill="#fff"/>
<circle cx="507" cy="1572" r="2" fill="#e8e0f4"/>
<!-- orange plug -->
<path d="M505.2,1626.4 L537,1622.8 L541.8,1627.6 L551.4,1644.4 L553.8,1649.2 L573,1648 C576,1649 576,1655 573,1656 L552.6,1655.2 L545.4,1672 L540.6,1680.4 L510.6,1683.4 L508.2,1676.8 L519,1672 L514.2,1660 L507,1650.4 L505.2,1630 Z" fill="#d49222" stroke="#a8700c" stroke-width="0.5"/>
<path d="M505.2,1626.4 L537,1622.8 L538,1640 L506,1644 Z" fill="#bc7a12"/>
<circle cx="532" cy="1660" r="1.3" fill="#fff"/><circle cx="532" cy="1669" r="1.3" fill="#fff"/>
<!-- bottom shell -->
<path d="M700,1525.5 L713,1530 L715,1589 L702,1590 Z" fill="#bcbcac" stroke="#88887a" stroke-width="0.6"/>
<path d="M579.7,1545 C579.7,1526 590,1515 606,1514.3 L640,1516 C660,1517 682,1521 694.5,1525.5 C699,1527 702,1532 702,1540 L702,1626 C700,1655 692,1675 679.5,1684 C668,1694 656,1700 646,1704 C640,1705.5 636,1705.7 632,1705.7 C600,1705.7 581.6,1685 579.7,1650 Z" fill="url(#shellB)" stroke="#8a8a7c" stroke-width="0.8"/>
<path d="M665,1600 L702,1600 L702,1626 C700,1655 692,1675 679.5,1684 C668,1694 656,1700 646,1704 L665,1690 Z" fill="#a8a898" opacity="0.35"/>
<path d="M579.7,1545 C579.7,1526 590,1515 606,1514.3 L640,1516 C656,1519 665,1532 665.5,1550 L665.5,1668 C665.5,1690 652,1705.7 632,1705.7 C600,1705.7 581.6,1685 579.7,1650 Z" fill="#c6c6b6" stroke="#8e8e80" stroke-width="0.8"/>
<path d="M586,1548 C586,1531 594,1521 607,1520.5 L638,1522 C652,1524 660,1535 660,1552 L660,1666 C660,1686 648,1700 631,1700 C604,1700 588,1682 586,1650 Z" fill="#cacab8"/>
<path d="M629,1536 L660,1540 L660,1666 C660,1686 650,1697 640,1699 L630,1697 Z" fill="#a2a294"/>
<path d="M642,1533 C652,1533 660,1540 660,1552 L660,1592.7 C652,1592 644,1580 642,1565 Z" fill="#d6d6c6"/>
<rect x="610.5" y="1531" width="31.5" height="13" rx="6.5" fill="#d2d2c2" stroke="#909082" stroke-width="0.7"/>
<circle cx="613" cy="1537.5" r="4.2" fill="#bcbcac" stroke="#909082" stroke-width="0.6"/>
<rect x="610.5" y="1651.5" width="31.5" height="14" rx="7" fill="#d2d2c2" stroke="#909082" stroke-width="0.7"/>
<circle cx="613" cy="1658.5" r="4.5" fill="#bcbcac" stroke="#909082" stroke-width="0.6"/>
<!-- red led -->
<path d="M221,1706 C221,1702 226,1700.5 230,1701.5 C234,1702 236,1705 237,1709 C238,1713 236,1717 231,1718.5 C226,1719 222,1717 220,1713 C219,1710 220,1708 221,1706 Z" fill="#e00c0c"/>
<path d="M226,1707 C228,1704 232,1705 233,1708 C233,1711 229,1712 226,1710 Z" fill="#f03030"/>
<!-- springs -->
<path d="M255.5,1682 L260.5,1683.5 L255.5,1685 L260.5,1686.5 L255.5,1688 L260.5,1689.5 L255.5,1691 L260.5,1692.5 L255.5,1694 L260.5,1695.5 L255.5,1697 L260.5,1698.5 L256,1700" fill="none" stroke="#b8504a" stroke-width="1"/>
<path d="M281.5,1684 L287,1685.5 L281.5,1687 L287,1688.5 L281.5,1690 L287,1691.5 L281.5,1693 L287,1694.5 L281.5,1696 L287,1697.5 L281.5,1699 L287,1700.5 L282,1703" fill="none" stroke="#b8504a" stroke-width="1"/>
<!-- gold 3-leaf -->
<path d="M302,1684 L306,1684 L306,1680 L331,1679.3 L331,1686 L328.7,1686 L328.7,1681.5 L357,1681 L357,1690 L360,1690 L360,1692 L357,1692 L357,1698 L330,1698 L330,1696 L302,1696 Z" fill="#b88014" stroke="#8e6008" stroke-width="0.5"/>
<rect x="320" y="1682" width="5" height="5" fill="#fff"/><rect x="344" y="1684" width="5" height="5" fill="#fff"/>
<rect x="302" y="1684" width="6" height="10" fill="#a87008"/>
<!-- copper button -->
<path d="M374,1709 C376,1705 385,1704.5 392,1705 C399,1705.5 403.5,1707 403,1709.5 C402,1712 398,1714 392,1716 C386,1717 379,1716 376,1713 Z" fill="#a26e58"/>
<path d="M377,1708 C380,1705.5 390,1705 396,1706.5 C399,1707.5 398,1709.5 394,1710.5 C388,1711.5 380,1711 377,1708 Z" fill="#c89a86"/>
<!-- red dots -->
<g fill="#f00">
 <circle cx="74.8" cy="1665" r="1.6"/><circle cx="166.8" cy="1746" r="1.6"/><circle cx="231" cy="1604" r="1.6"/>
 <circle cx="295.7" cy="1590" r="1.6"/><circle cx="347.3" cy="1573" r="1.6"/><circle cx="392" cy="1553" r="1.6"/>
 <circle cx="540.5" cy="1557" r="1.6"/><circle cx="461" cy="1715" r="1.6"/><circle cx="534.7" cy="1678" r="1.6"/>
 <circle cx="631.3" cy="1708" r="1.6"/><circle cx="336" cy="1696" r="1.6"/><circle cx="259" cy="1700" r="1.4"/>
</g>
</svg>
<div class="el" style="left:38px;top:1730.5px;font-size:16px">防水硅胶盖</div>
<div class="el" style="left:152px;top:1794.5px">面壳</div>
<div class="el" style="left:187px;top:1509.5px">绝缘档片</div>
<div class="el" style="left:265px;top:1500.5px">挡片盖</div>
<div class="el" style="left:312.5px;top:1474.5px">地线五金</div>
<div class="el" style="left:366.5px;top:1438.5px">支架1</div>
<div class="el" style="left:520px;top:1444.5px">支架2</div>
<div class="el" style="left:203px;top:1763.5px">导光柱</div>
<div class="el" style="left:244px;top:1737.5px">弹簧*2</div>
<div class="el" style="left:295.5px;top:1773px;letter-spacing:0.5px">3叶铜片*2</div>
<div class="el" style="left:383px;top:1801.5px">按键</div>
<div class="el" style="left:448.5px;top:1820px;transform:scaleX(0.965);transform-origin:0 0">PCB(不含PCBA)</div>
<div class="el" style="left:503px;top:1749.5px;font-size:17px">欧标公头</div>
<div class="el" style="left:620px;top:1796.5px">底壳</div>
<div class="note" style="left:123px;top:1880px">备注：</div>
<div class="note" style="left:202.5px;top:1880px">自攻螺丝<span style="letter-spacing:0.8px">1.7*4.5</span></div>
<div class="note" style="left:449.5px;top:1880px">7个</div>
<div class="note" style="left:202.5px;top:1913.5px">自攻螺丝<span style="letter-spacing:0.8px">2.6*8</span></div>
<div class="note" style="left:449.5px;top:1913.5px">4个</div>

<!-- Exploded box -->
<div style="position:absolute;left:19px;top:1396px;width:716px;height:563px;border:2px solid #045b8d;border-radius:22px"></div>

</body></html>
